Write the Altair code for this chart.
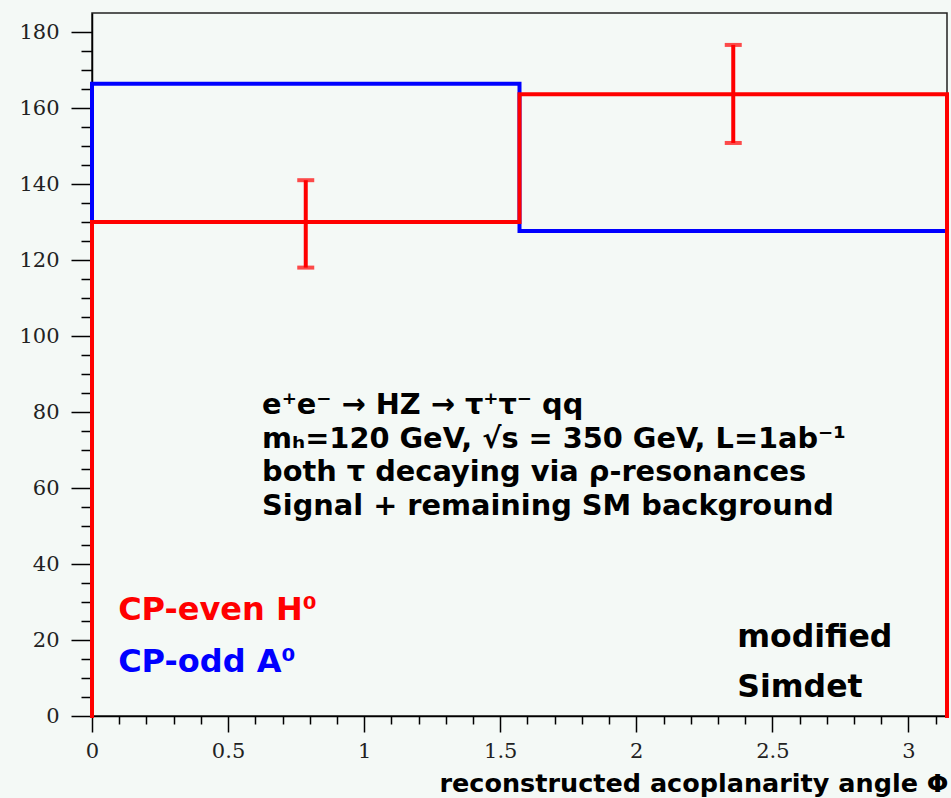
import math
import altair as alt
import pandas as pd

# ---- data ----
bin_edges = [0.0, math.pi / 2, math.pi]
red_counts = [130.0, 163.6]      # CP-even H0
blue_counts = [166.4, 127.6]     # CP-odd A0
red_centers = [math.pi / 4, 3 * math.pi / 4]
red_err_low = [118.0, 150.8]
red_err_high = [141.0, 176.6]

x_ticks = [round(i * 0.1, 1) for i in range(32)]
y_ticks = list(range(0, 185, 5))

ann_lines = [
    "e⁺e⁻ → HZ → τ⁺τ⁻ qq",
    "mₕ=120 GeV, √s = 350 GeV, L=1ab⁻¹",
    "both τ decaying via ρ-resonances",
    "Signal + remaining SM background",
]
ann_x = 0.625
ann_y = [81.8, 72.9, 64.2, 55.3]

legend_text = ["CP-even H⁰", "CP-odd A⁰"]
legend_color = ["#ff0000", "#0000ff"]
legend_x = 0.096
legend_y = [27.9, 14.2]

note_text = ["modified", "Simdet"]
note_x = 2.371
note_y = [20.5, 7.4]

BG = "#f4f9f6"


def step_frame(edges, counts):
    xs, ys = [edges[0]], [0.0]
    for i, c in enumerate(counts):
        xs += [edges[i], edges[i + 1]]
        ys += [c, c]
    xs.append(edges[-1])
    ys.append(0.0)
    return pd.DataFrame({"x": xs, "y": ys, "order": list(range(len(xs)))})


red_df = step_frame(bin_edges, red_counts)
blue_df = step_frame(bin_edges, blue_counts)
err_df = pd.DataFrame({"x": red_centers, "y": red_err_low, "hi": red_err_high})
caps_df = pd.DataFrame({"x": red_centers * 2, "y": red_err_low + red_err_high})
ann_df = pd.DataFrame({"x": [ann_x] * len(ann_lines), "y": ann_y, "t": ann_lines})
leg_df = pd.DataFrame({"x": [legend_x] * 2, "y": legend_y, "t": legend_text, "c": legend_color})
note_df = pd.DataFrame({"x": [note_x] * 2, "y": note_y, "t": note_text})

xscale = alt.Scale(domain=[0, math.pi], nice=False, zero=False)
yscale = alt.Scale(domain=[0, 185], nice=False, zero=False)

major_x = "abs(datum.value*2 - round(datum.value*2)) < 0.001"
x_axis = alt.Axis(
    values=x_ticks,
    labelExpr=major_x + " ? format(datum.value, '~g') : ''",
    tickSize={"condition": {"test": major_x, "value": 16}, "value": 8},
    labelOverlap=False,
    labelFlush=False,
    labelPadding=8,
    grid=False,
    title="reconstructed acoplanarity angle Φ",
    titleFont="DejaVu Sans",
    titleFontWeight="bold",
    titleFontSize=25.5,
    titleColor="#000000",
    titleAlign="right",
    titleBaseline="alphabetic",
    titleX=856,
    titleY=75,
)
y_axis = alt.Axis(
    values=y_ticks,
    labelExpr="datum.value % 20 === 0 ? datum.label : ''",
    tickSize={"condition": {"test": "datum.value % 20 === 0", "value": 21}, "value": 11},
    labelOverlap=False,
    labelFlush=False,
    labelPadding=12,
    grid=False,
    title=None,
)

X = alt.X("x:Q", scale=xscale, axis=x_axis)
Y = alt.Y("y:Q", scale=yscale, axis=y_axis)

blue_line = alt.Chart(blue_df).mark_line(color="#0000ff", strokeWidth=4, strokeCap="square").encode(
    x=X, y=Y, order="order:Q")
red_line = alt.Chart(red_df).mark_line(color="#ff0000", strokeWidth=4, strokeCap="square").encode(
    x=X, y=Y, order="order:Q")

err = alt.Chart(err_df).mark_rule(color="#ff0000", strokeWidth=4).encode(
    x=X, y=Y, y2="hi:Q")
caps = alt.Chart(caps_df).mark_tick(color="#ff0000", orient="horizontal", size=17, thickness=4).encode(
    x=X, y=Y)

ann = alt.Chart(ann_df).mark_text(
    align="left", baseline="middle", font="DejaVu Sans", fontWeight="bold", fontSize=28.8, color="#000000"
).encode(x=X, y=Y, text="t:N")

leg = alt.Chart(leg_df).mark_text(
    align="left", baseline="middle", font="DejaVu Sans", fontWeight="bold", fontSize=32
).encode(x=X, y=Y, text="t:N", color=alt.Color("c:N", scale=None))

note = alt.Chart(note_df).mark_text(
    align="left", baseline="middle", font="DejaVu Sans", fontWeight="bold", fontSize=31.5, color="#000000"
).encode(x=X, y=Y, text="t:N")

chart = alt.layer(blue_line, red_line, err, caps, ann, leg, note).properties(
    width=855,
    height=703,
    padding={"left": 92, "top": 13, "right": 4, "bottom": 82},
    autosize=alt.AutoSizeParams(type="none"),
    background=BG,
).configure_view(
    fill=BG, stroke="#222222", strokeWidth=1.5
).configure_axis(
    domainColor="#000000", domainWidth=1.5, tickColor="#000000", tickWidth=1.5,
    labelFont="DejaVu Serif", labelFontSize=21, labelColor="#222222",
)

chart.save("out.html", embed_options={"renderer": "svg", "actions": False})
